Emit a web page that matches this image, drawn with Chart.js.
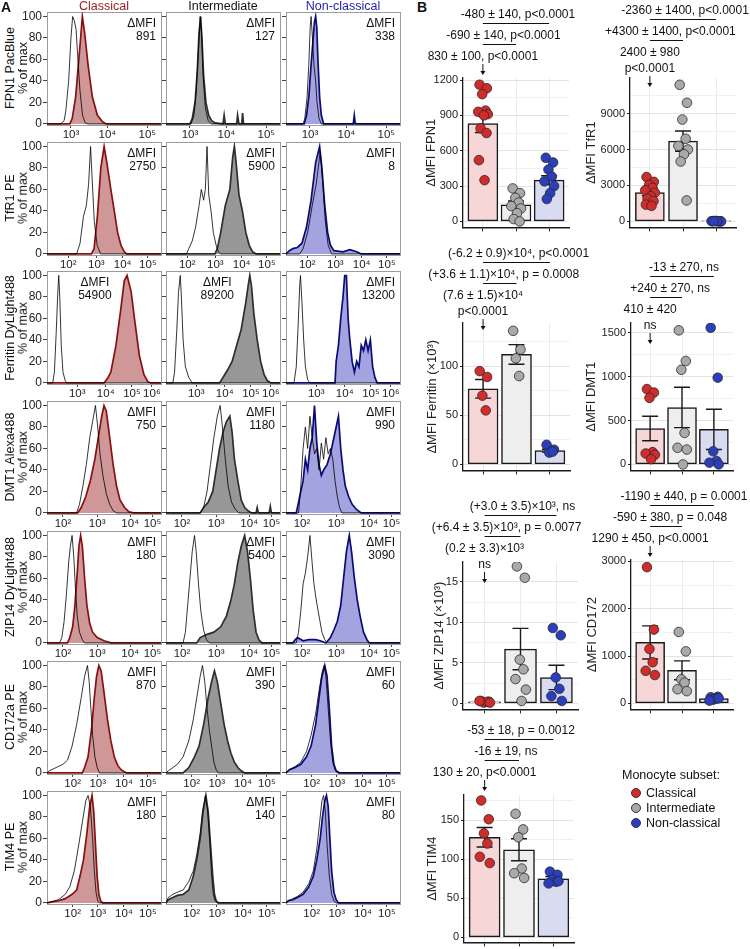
<!DOCTYPE html>
<html>
<head>
<meta charset="utf-8">
<script src="https://cdn.jsdelivr.net/npm/chart.js@4.4.1/dist/chart.umd.min.js"></script>
<style>
body{margin:0;background:#fff;font-family:"Liberation Sans",Arial,sans-serif;}
#fig{position:relative;width:750px;height:949px;overflow:hidden;background:#fff;}
#fig canvas{position:absolute;}
.t{position:absolute;white-space:nowrap;font-size:12px;color:#111;line-height:1;}
.rot{transform:translate(-50%,-50%) rotate(-90deg);}
.ctr{transform:translate(-50%,-50%);}
.dot{position:absolute;width:10px;height:10px;border-radius:50%;border:1px solid #333;box-sizing:border-box;}
</style>
</head>
<body>
<div id="fig"></div>
<script>
// ---- panel A: flow histograms (x in display channels 0-1000, y in % of max) ----
const SUBSETS = ['Classical','Intermediate','Non-classical'];
const MARKERS = ['FPN1 PacBlue','TfR1 PE','Ferritin DyLight488','DMT1 Alexa488','ZIP14 DyLight488','CD172a PE','TIM4 PE'];
const DMFI = [[891,127,338],[2750,5900,8],[54900,89200,13200],[750,1180,990],[180,5400,3090],[870,390,60],[180,140,80]];
const X_TICK_POS = [[210,530,880],[186,433,664,885],[265,515,745,920],[140,440,730,925],[140,440,730,925],[225,445,675,885],[225,445,675,885]];
const X_TICK_LBL = [['10³','10⁴','10⁵'],['10²','10³','10⁴','10⁵'],['10³','10⁴','10⁵','10⁶'],['10²','10³','10⁴','10⁵'],['10²','10³','10⁴','10⁵'],['10²','10³','10⁴','10⁵'],['10²','10³','10⁴','10⁵']];
const HIST_Y_TICKS = [0,20,40,60,80,100];

// isotype (open) and stained (filled) curves, one per subset
const FPN1_ISO = [
  [[0,0],[120,0],[150,3],[165,12],[190,40],[210,80],[225,100],[240,96],[255,88],[270,62],[290,30],[312,8],[335,1],[360,0],[1000,0]],
  [[0,0],[220,0],[245,8],[265,30],[285,70],[300,100],[312,85],[325,45],[345,15],[370,3],[400,0],[1000,0]],
  [[0,0],[150,0],[165,5],[185,25],[200,55],[212,90],[220,100],[232,80],[245,55],[260,40],[272,20],[290,5],[310,0],[1000,0]]];
const FPN1_STAIN = [
  [[0,0],[200,0],[221,5],[251,25],[271,50],[295,80],[310,100],[330,85],[360,55],[398,25],[442,8],[487,2],[520,0],[1000,0]],
  [[0,0],[210,0],[230,5],[255,20],[275,50],[290,85],[304,100],[315,80],[330,45],[350,20],[375,8],[400,3],[430,1],[500,0],[510,8],[520,0],[620,0],[628,8],[640,0],[665,0],[672,10],[680,0],[1000,0]],
  [[0,0],[160,0],[180,8],[200,25],[220,55],[235,75],[250,95],[260,100],[270,90],[280,60],[295,25],[310,8],[330,0],[590,0],[599,8],[608,0],[1000,0]]];
const TFR1_ISO = [
  [[0,0],[260,0],[290,10],[320,35],[345,45],[365,65],[382,100],[396,70],[415,30],[440,8],[470,0],[1000,0]],
  [[0,0],[180,0],[200,5],[230,12],[260,25],[290,45],[310,60],[330,50],[345,60],[360,100],[375,55],[395,40],[415,20],[440,8],[460,2],[480,0],[1000,0]],
  [[0,0],[120,0],[150,5],[190,20],[230,45],[265,65],[300,95],[320,70],[345,30],[370,8],[400,0],[1000,0]]];
const TFR1_STAIN = [
  [[0,0],[390,0],[413,5],[442,35],[472,80],[501,100],[525,85],[560,60],[590,40],[619,20],[649,8],[678,2],[700,0],[1000,0]],
  [[0,0],[430,0],[450,5],[480,20],[520,45],[560,60],[585,90],[600,100],[615,85],[640,55],[670,40],[700,20],[730,8],[760,2],[790,0],[1000,0]],
  [[0,0],[30,3],[60,5],[100,6],[140,10],[180,25],[220,50],[260,85],[295,100],[315,80],[340,45],[365,20],[390,8],[420,3],[500,2],[560,4],[620,2],[660,0],[1000,0]]];
const FERRITIN_ISO = [
  [[0,0],[50,0],[65,10],[80,45],[95,85],[103,100],[112,80],[125,35],[140,10],[160,2],[175,0],[1000,0]],
  [[0,0],[60,0],[75,10],[95,50],[110,85],[125,100],[135,80],[150,40],[170,15],[200,5],[230,0],[1000,0]],
  [[0,0],[70,0],[90,15],[105,50],[120,90],[127,100],[140,75],[155,40],[170,15],[190,3],[210,0],[1000,0]]];
const FERRITIN_STAIN = [
  [[0,0],[500,0],[530,4],[560,10],[605,35],[649,70],[678,95],[702,100],[738,85],[767,60],[811,25],[850,8],[885,1],[910,0],[1000,0]],
  [[0,0],[470,0],[500,5],[540,12],[580,20],[620,35],[660,50],[700,75],[720,90],[735,100],[750,90],[770,65],[800,40],[830,20],[860,8],[890,2],[920,0],[1000,0]],
  [[0,0],[430,0],[440,20],[460,35],[480,60],[500,80],[515,100],[530,100],[545,60],[560,40],[580,20],[600,10],[620,20],[640,15],[660,35],[680,30],[700,40],[720,30],[740,40],[760,15],[780,5],[800,0],[1000,0]]];
const DMT1_ISO = [
  [[0,0],[260,0],[285,8],[315,25],[345,45],[375,70],[400,85],[425,100],[445,80],[465,55],[490,35],[520,18],[550,8],[580,2],[610,0],[1000,0]],
  [[0,0],[300,0],[330,5],[360,20],[390,45],[420,70],[450,90],[475,100],[495,80],[520,50],[545,25],[575,10],[610,3],[640,0],[1000,0]],
  [[0,0],[110,0],[130,25],[150,60],[170,80],[190,60],[210,90],[230,70],[250,55],[270,60],[290,40],[310,65],[330,50],[350,70],[370,55],[390,60],[410,50],[430,30],[450,15],[470,5],[490,0],[1000,0]]];
const DMT1_STAIN = [
  [[0,0],[270,0],[300,5],[340,15],[380,30],[420,50],[450,70],[480,90],[500,100],[520,95],[550,70],[580,45],[610,25],[640,12],[680,5],[720,1],[760,0],[1000,0]],
  [[0,0],[300,0],[330,5],[370,10],[410,20],[440,40],[470,60],[500,75],[530,85],[560,90],[580,75],[600,50],[630,30],[660,12],[690,5],[720,2],[750,0],[790,0],[800,5],[810,0],[905,0],[915,6],[925,0],[1000,0]],
  [[0,0],[90,0],[110,10],[130,20],[150,30],[170,50],[190,40],[210,60],[230,70],[250,100],[270,65],[290,45],[310,35],[330,40],[360,45],[390,55],[420,70],[440,80],[460,90],[480,60],[500,40],[520,25],[550,15],[580,8],[620,3],[660,0],[1000,0]]];
const ZIP14_ISO = [
  [[0,0],[110,0],[130,5],[150,20],[170,45],[190,75],[205,90],[220,100],[235,80],[250,50],[265,25],[285,10],[310,3],[330,0],[1000,0]],
  [[0,0],[150,0],[170,10],[190,35],[210,60],[230,85],[250,100],[265,85],[285,55],[305,30],[330,12],[355,3],[380,0],[1000,0]],
  [[0,0],[90,0],[110,10],[130,30],[150,55],[170,65],[190,80],[210,100],[225,80],[245,55],[265,40],[290,25],[315,10],[340,3],[360,0],[1000,0]]];
const ZIP14_STAIN = [
  [[0,0],[180,0],[200,5],[225,15],[245,35],[265,65],[280,90],[295,100],[310,90],[330,60],[350,35],[375,18],[400,10],[440,5],[500,2],[560,0],[1000,0]],
  [[0,0],[270,0],[300,5],[360,8],[420,10],[480,15],[530,25],[570,40],[600,55],[630,75],[660,90],[690,100],[715,85],[740,60],[765,30],[790,10],[815,3],[840,0],[1000,0]],
  [[0,0],[60,0],[80,3],[100,5],[150,2],[200,3],[260,3],[300,2],[350,0],[390,5],[420,12],[450,20],[480,35],[505,60],[530,85],[555,100],[575,85],[600,60],[625,40],[650,25],[680,10],[710,3],[730,0],[1000,0]]];
const CD172A_ISO = [
  [[0,0],[20,2],[80,5],[140,8],[180,12],[220,25],[260,45],[300,70],[330,90],[355,100],[370,85],[385,60],[400,35],[420,15],[440,5],[460,0],[1000,0]],
  [[0,0],[20,2],[60,5],[100,8],[150,15],[200,30],[240,50],[270,70],[300,90],[320,100],[340,85],[360,60],[380,40],[400,25],[420,10],[440,3],[460,0],[1000,0]],
  [[0,0],[30,3],[80,6],[130,10],[180,20],[220,35],[260,55],[295,80],[320,95],[335,100],[350,90],[370,60],[390,30],[410,10],[430,3],[450,0],[1000,0]]];
const CD172A_STAIN = [
  [[0,0],[310,0],[330,5],[360,15],[390,40],[415,70],[435,90],[455,100],[475,95],[500,75],[530,50],[560,30],[590,15],[620,7],[650,3],[680,1],[700,0],[1000,0]],
  [[0,0],[150,0],[200,5],[250,15],[290,25],[330,45],[370,70],[400,85],[425,95],[450,85],[480,65],[510,45],[540,30],[570,18],[600,10],[630,5],[660,2],[690,0],[1000,0]],
  [[0,0],[30,3],[80,5],[130,8],[180,15],[220,25],[260,45],[290,70],[315,90],[340,100],[360,90],[380,60],[400,25],[420,8],[440,2],[470,0],[1000,0]]];
const TIM4_ISO = [
  [[0,0],[40,1],[100,3],[160,8],[200,15],[240,30],[280,55],[310,75],[340,95],[360,100],[380,90],[400,60],[415,30],[430,10],[445,2],[460,0],[1000,0]],
  [[0,0],[20,5],[60,8],[100,10],[150,12],[200,20],[240,30],[270,45],[300,65],[320,85],[345,100],[365,85],[385,55],[400,25],[415,8],[430,2],[450,0],[1000,0]],
  [[0,0],[20,2],[60,4],[100,6],[150,10],[200,18],[240,30],[270,50],[295,75],[315,95],[330,100],[345,85],[360,55],[380,25],[400,8],[420,2],[440,0],[1000,0]]];
const TIM4_STAIN = [
  [[0,0],[40,1],[100,2],[160,4],[220,8],[260,12],[290,25],[320,40],[350,65],[375,90],[395,100],[410,85],[425,55],[440,25],[455,8],[470,2],[490,0],[1000,0]],
  [[0,0],[20,3],[60,5],[100,7],[150,8],[200,12],[240,25],[270,40],[300,60],[325,85],[350,100],[370,85],[390,55],[410,25],[425,8],[440,2],[460,0],[1000,0]],
  [[0,0],[20,2],[60,3],[100,5],[150,8],[200,15],[240,25],[270,40],[300,60],[320,80],[340,95],[355,100],[370,90],[385,60],[400,30],[420,10],[440,3],[460,0],[1000,0]]];

// ---- panel B: per-donor dMFI, group means and SEM ----
const FPN1_DOTS = [[1160,1130,1080,940,930,910,900,790,750,520,350],[280,240,200,160,130,110,70,20,0],[540,500,440,380,340,300,240,190]];
const FPN1_MEAN = [830,140,350], FPN1_SEM = [75,33,38], FPN1_YTICKS = [0,300,600,900,1200];
const TFR1_DOTS = [[3700,3300,3050,2800,2600,2400,2100,1900,1700,1400,1300],[11400,9900,8500,6900,6300,6000,5600,5000,1750],[30,10,40,0,20,5,25,15]];
const TFR1_MEAN = [2400,6700,20], TFR1_SEM = [260,850,5], TFR1_YTICKS = [0,3000,6000,9000];
const FERRITIN_DOTS = [[95,89,70,55],[136,117,108,90],[20,15,12,13]];
const FERRITIN_MEAN = [77,112,14], FERRITIN_SEM = [9.5,10,1.5], FERRITIN_YTICKS = [0,50,100];
const DMT1_DOTS = [[860,820,760,140,125,110,60],[1530,1180,1080,360,190,170,0],[1560,990,150,40,20,0]];
const DMT1_MEAN = [410,650,400], DMT1_SEM = [140,230,230], DMT1_YTICKS = [0,500,1000,1500];
const ZIP14_DOTS = [[0.3,0.2,0.1,0.2,0.3,0.1],[16.9,15.5,5.4,4.2,3.0,1.7,0.3],[9.3,8.4,3.2,1.8,0.9,0.3]];
const ZIP14_MEAN = [0.2,6.7,3.2], ZIP14_SEM = [0.05,2.55,1.5], ZIP14_YTICKS = [0,5,10,15];
const CD172_DOTS = [[2880,1560,1150,870,690,600],[1510,1100,510,440,300,260],[130,140,80,100,60,110]];
const CD172_MEAN = [1290,700,100], CD172_SEM = [350,200,30], CD172_YTICKS = [0,1000,2000,3000];
const TIM4_DOTS = [[175,151,133,120,103,95],[158,138,128,88,82,76],[84,80,74,71,69,72]];
const TIM4_MEAN = [128,112,75], TIM4_SEM = [12.5,14,2.8], TIM4_YTICKS = [0,50,100,150];

const FPN1_NOTES = ['-480 ± 140, p<0.0001','-690 ± 140, p<0.0001',['830 ± 100, p<0.0001']];
const TFR1_NOTES = ['-2360 ± 1400, p<0.0001','+4300 ± 1400, p<0.0001',['2400 ± 980','p<0.0001']];
const FERRITIN_NOTES = ['(-6.2 ± 0.9)×10⁴, p<0.0001','(+3.6 ± 1.1)×10⁴, p = 0.0008',['(7.6 ± 1.5)×10⁴','p<0.0001']];
const DMT1_NOTES = ['-13 ± 270, ns','+240 ± 270, ns',['410 ± 420','ns']];
const ZIP14_NOTES = ['(+3.0 ± 3.5)×10³, ns','(+6.4 ± 3.5)×10³, p = 0.0077',['(0.2 ± 3.3)×10³','ns']];
const CD172_NOTES = ['-1190 ± 440, p = 0.0001','-590 ± 380, p = 0.048',['1290 ± 450, p<0.0001']];
const TIM4_NOTES = ['-53 ± 18, p = 0.0012','-16 ± 19, ns',['130 ± 20, p<0.0001']];

// styles
const FONT = '"Liberation Sans", Arial, sans-serif';
Chart.defaults.font.family = FONT;
const HIST_LINE = ['#8a1010','#2e2e2e','#0b0b78'];
const HIST_FILL = ['#cf9797','#979797','#a3a3df'];
const HEAD_COL = ['#9b1b1b','#111','#1f1fae'];
const BAR_FILL = ['#f6d6d6','#eeeeee','#d9dcf1'];
const DOT_FILL = ['#d22b2b','#a9a9a9','#2b3ebd'];
const JITTER = [-0.1,0.12,-0.02,0.08,-0.14,0.15,0.03,-0.07,0.11,-0.12,0.05];
const BOX_LEFT = [47,166,286], BOX_W = 114;

const fig = document.getElementById('fig');
function addCanvas(x,y,w,h){
  const c = document.createElement('canvas');
  c.width = w; c.height = h;
  c.style.left = x+'px'; c.style.top = y+'px'; c.style.width = w+'px'; c.style.height = h+'px';
  fig.appendChild(c); return c;
}
function addText(txt,x,y,cls,style){
  const d = document.createElement('div'); d.className = 't '+(cls||'');
  d.textContent = txt; d.style.left = x+'px'; d.style.top = y+'px';
  if(style) Object.assign(d.style, style);
  fig.appendChild(d); return d;
}

// frame + dMFI label for the histograms
const histDeco = {
  id:'histDeco',
  beforeDatasetsDraw(chart,args,o){
    const a = chart.chartArea, ctx = chart.ctx;
    ctx.save(); ctx.strokeStyle = '#9c9c9c'; ctx.lineWidth = 1;
    ctx.strokeRect(Math.round(a.left)+0.5, Math.round(a.top)+0.5, Math.round(a.width), Math.round(a.height));
    ctx.restore();
  },
  afterDraw(chart,args,o){
    const a = chart.chartArea, ctx = chart.ctx;
    ctx.save(); ctx.fillStyle = '#111'; ctx.font = '12px '+FONT; ctx.textBaseline = 'middle';
    let x;
    if(o.center!=null){ ctx.textAlign = 'center'; x = a.left + o.center*a.width; }
    else { ctx.textAlign = 'right'; x = a.right - 5; }
    ctx.fillText('ΔMFI', x, a.top+11);
    ctx.fillText(String(o.value), x, a.top+24);
    ctx.restore();
  }
};

const ISO = [FPN1_ISO,TFR1_ISO,FERRITIN_ISO,DMT1_ISO,ZIP14_ISO,CD172A_ISO,TIM4_ISO];
const STAIN = [FPN1_STAIN,TFR1_STAIN,FERRITIN_STAIN,DMT1_STAIN,ZIP14_STAIN,CD172A_STAIN,TIM4_STAIN];
const LABEL_CENTER = {'2,0':0.42,'2,1':0.45};

function histChart(r,c){
  const y0 = 123 + r*129.8;
  const yW = c===0 ? 26 : 5;
  const cv = addCanvas(BOX_LEFT[c]-yW, Math.round(y0-119.3), yW+BOX_W+10, 137);
  const pos = X_TICK_POS[r], lbl = X_TICK_LBL[r];
  new Chart(cv,{
    type:'line',
    data:{datasets:[
      {data:ISO[r][c], borderColor:'#000', borderWidth:0.8, pointRadius:0, fill:false, tension:0},
      {data:STAIN[r][c], borderColor:HIST_LINE[c], backgroundColor:HIST_FILL[c], borderWidth:1.7, pointRadius:0, fill:'origin', tension:0}
    ]},
    options:{
      animation:false, responsive:false, events:[],
      layout:{padding:{top:8,right:10,left:0,bottom:0}},
      plugins:{legend:{display:false}, tooltip:{enabled:false},
        histDeco:{value:DMFI[r][c], center:LABEL_CENTER[r+','+c]}},
      scales:{
        x:{type:'linear', min:0, max:1000,
          afterBuildTicks:s=>{ s.ticks = pos.map(v=>({value:v})); },
          ticks:{autoSkip:false, maxRotation:0, padding:0, color:'#222', font:{size:11.5},
            callback:v=>lbl[pos.indexOf(v)]},
          grid:{drawOnChartArea:false, tickLength:3, color:'#444'},
          border:{display:false},
          afterFit:s=>{ s.height = 16; }},
        y:{min:-1, max:104,
          afterBuildTicks:s=>{ s.ticks = HIST_Y_TICKS.map(v=>({value:v})); },
          ticks:{autoSkip:false, padding:1, color:'#222', font:{size:12},
            callback:v=> c===0 ? v : ''},
          grid:{drawOnChartArea:false, tickLength:4, color:'#444'},
          border:{display:false},
          afterFit:s=>{ s.width = yW; }}
      }
    },
    plugins:[histDeco]
  });
}

for(let r=0;r<7;r++){
  for(let c=0;c<3;c++) histChart(r,c);
  const yc = 123 + r*129.8 - 55;
  addText(MARKERS[r], 10, yc, 'rot', {fontSize:'12.5px'});
  addText('% of max', 23, yc, 'rot', {fontSize:'12.5px'});
}
SUBSETS.forEach((s,c)=>addText(s, BOX_LEFT[c]+BOX_W/2, 6, 'ctr', {color:HEAD_COL[c], fontSize:'12.5px'}));
addText('A', 1, 0, '', {fontWeight:'bold', fontSize:'14px'});
addText('B', 417, 0, '', {fontWeight:'bold', fontSize:'14px'});

// ---- panel B plugins ----
const errBars = {
  id:'errBars',
  afterDatasetDraw(chart,args,o){
    if(args.index !== chart.data.datasets.length-1) return;
    const xs = chart.scales.x, ys = chart.scales.y, ctx = chart.ctx;
    ctx.save(); ctx.strokeStyle = '#1a1a1a'; ctx.lineWidth = 1.4;
    o.mean.forEach((m,k)=>{
      const x = xs.getPixelForValue(k+1), yl = ys.getPixelForValue(m-o.sem[k]), yh = ys.getPixelForValue(m+o.sem[k]);
      ctx.beginPath();
      ctx.moveTo(x,yl); ctx.lineTo(x,yh);
      ctx.moveTo(x-8,yl); ctx.lineTo(x+8,yl);
      ctx.moveTo(x-8,yh); ctx.lineTo(x+8,yh);
      ctx.stroke();
    });
    ctx.restore();
  }
};
const notes = {
  id:'notes',
  afterDraw(chart,args,o){
    const xs = chart.scales.x, ctx = chart.ctx, t = chart.chartArea.top + o.y0;
    const x1 = xs.getPixelForValue(1), x2 = xs.getPixelForValue(2), x3 = xs.getPixelForValue(3);
    ctx.save(); ctx.fillStyle = '#111'; ctx.strokeStyle = '#111'; ctx.lineWidth = 1;
    ctx.font = '12px '+FONT; ctx.textAlign = 'center'; ctx.textBaseline = 'middle';
    ctx.fillText(o.text[0], (x1+x3)/2+2, t);
    ctx.beginPath(); ctx.moveTo(x1,t+8.5); ctx.lineTo(x3,t+8.5); ctx.stroke();
    ctx.fillText(o.text[1], (x1+x2)/2+4, t+21);
    ctx.beginPath(); ctx.moveTo(x1,t+29.5); ctx.lineTo(x2,t+29.5); ctx.stroke();
    const main = o.text[2];
    main.forEach((s,i)=>ctx.fillText(s, x1, t+42+i*16));
    const ya = t+42+(main.length-1)*16+7, yb = ya+11;
    ctx.beginPath(); ctx.moveTo(x1,ya); ctx.lineTo(x1,yb-3); ctx.stroke();
    ctx.beginPath(); ctx.moveTo(x1-2.5,yb-4); ctx.lineTo(x1+2.5,yb-4); ctx.lineTo(x1,yb); ctx.closePath(); ctx.fill();
    ctx.restore();
  }
};

function barChart(cfg){
  const cv = addCanvas(cfg.left, cfg.top, cfg.width, cfg.height);
  const major = cfg.yticks, step = major[1]-major[0];
  const all = [];
  major.forEach(v=>{ all.push(v); if(v+step/2 <= cfg.ymax) all.push(v+step/2); });
  const dotSets = cfg.dots.map((arr,k)=>({
    type:'scatter', data:arr.map((v,i)=>({x:k+1+JITTER[i%JITTER.length], y:v})),
    pointRadius:4.8, pointBackgroundColor:DOT_FILL[k], pointBorderColor:'#2a2a2a', pointBorderWidth:0.8
  }));
  new Chart(cv,{
    type:'bar',
    data:{datasets:[...dotSets,
      {type:'bar', data:cfg.mean.map((v,k)=>({x:k+1,y:v})), backgroundColor:BAR_FILL,
       borderColor:'#1a1a1a', borderWidth:1.5, borderSkipped:false, barThickness:cfg.barW}]},
    options:{
      animation:false, responsive:false, events:[],
      layout:{padding:{top:cfg.areaTop-cfg.top, right:cfg.left+cfg.width-cfg.areaRight, left:0, bottom:0}},
      plugins:{legend:{display:false}, tooltip:{enabled:false},
        errBars:{mean:cfg.mean, sem:cfg.sem}, notes:{text:cfg.notes, y0:cfg.y0}},
      scales:{
        x:{type:'linear', min:0.4, max:3.6, offset:false,
          afterBuildTicks:s=>{ s.ticks = [1,2,3].map(v=>({value:v})); },
          ticks:{callback:()=>'', padding:0},
          grid:{color:'#ebebeb', tickColor:'#222', tickLength:4, offset:false},
          border:{color:'#1a1a1a', width:1.5},
          afterFit:s=>{ s.height = 8; }},
        y:{min:cfg.ymin, max:cfg.ymax,
          afterBuildTicks:s=>{ s.ticks = all.map(v=>({value:v})); },
          ticks:{autoSkip:false, padding:2, color:'#222', font:{size:11},
            callback:v=> major.includes(v) ? v : ''},
          grid:{color:ctx=> major.includes(ctx.tick && ctx.tick.value) ? '#e3e3e3' : '#f0f0f0',
            tickColor:ctx=> major.includes(ctx.tick && ctx.tick.value) ? '#222' : 'rgba(0,0,0,0)', tickLength:3},
          border:{color:'#1a1a1a', width:1.3},
          title:{display:true, text:cfg.title, color:'#222', font:{size:13}, padding:{top:6,bottom:0}},
          afterFit:s=>{ s.width = cfg.areaLeft-cfg.left; }}
      }
    },
    plugins:[errBars, notes]
  });
}

barChart({left:418, top:0, width:182, height:236, areaTop:78, areaLeft:463, areaRight:569, ymin:-50.7, ymax:1217, barW:30,
  dots:FPN1_DOTS, mean:FPN1_MEAN, sem:FPN1_SEM, yticks:FPN1_YTICKS, notes:FPN1_NOTES, y0:-63, title:'ΔMFI FPN1'});
barChart({left:578, top:0, width:172, height:236, areaTop:78, areaLeft:630, areaRight:736, ymin:-499, ymax:11967, barW:29,
  dots:TFR1_DOTS, mean:TFR1_MEAN, sem:TFR1_SEM, yticks:TFR1_YTICKS, notes:TFR1_NOTES, y0:-67, title:'ΔMFI TfR1'});
barChart({left:419, top:240, width:181, height:239, areaTop:323, areaLeft:463, areaRight:570, ymin:-6.1, ymax:144, barW:30,
  dots:FERRITIN_DOTS, mean:FERRITIN_MEAN, sem:FERRITIN_SEM, yticks:FERRITIN_YTICKS, notes:FERRITIN_NOTES, y0:-69, title:'ΔMFI Ferritin (×10³)'});
barChart({left:578, top:240, width:172, height:239, areaTop:323, areaLeft:631, areaRight:733, ymin:-68, ymax:1614, barW:29,
  dots:DMT1_DOTS, mean:DMT1_MEAN, sem:DMT1_SEM, yticks:DMT1_YTICKS, notes:DMT1_NOTES, y0:-55, title:'ΔMFI DMT1'});
barChart({left:426, top:480, width:174, height:238, areaTop:562, areaLeft:463, areaRight:578, ymin:-0.74, ymax:17.44, barW:32,
  dots:ZIP14_DOTS, mean:ZIP14_MEAN, sem:ZIP14_SEM, yticks:ZIP14_YTICKS, notes:ZIP14_NOTES, y0:-55, title:'ΔMFI ZIP14 (×10³)'});
barChart({left:579, top:480, width:171, height:238, areaTop:560, areaLeft:631, areaRight:733, ymin:-126, ymax:3031, barW:29,
  dots:CD172_DOTS, mean:CD172_MEAN, sem:CD172_SEM, yticks:CD172_YTICKS, notes:CD172_NOTES, y0:-63, title:'ΔMFI CD172'});
barChart({left:419, top:720, width:181, height:231, areaTop:795, areaLeft:464, areaRight:574, ymin:-6.4, ymax:182, barW:31,
  dots:TIM4_DOTS, mean:TIM4_MEAN, sem:TIM4_SEM, yticks:TIM4_YTICKS, notes:TIM4_NOTES, y0:-64, title:'ΔMFI TIM4'});

// legend
addText('Monocyte subset:', 622, 769, '', {fontSize:'12.5px'});
SUBSETS.forEach((s,k)=>{
  const d = document.createElement('div'); d.className = 'dot';
  d.style.left = '631px'; d.style.top = (788+k*15)+'px'; d.style.background = DOT_FILL[k];
  fig.appendChild(d);
  addText(s, 646, 787+k*15, '', {fontSize:'12.5px'});
});
</script>
</body>
</html>
